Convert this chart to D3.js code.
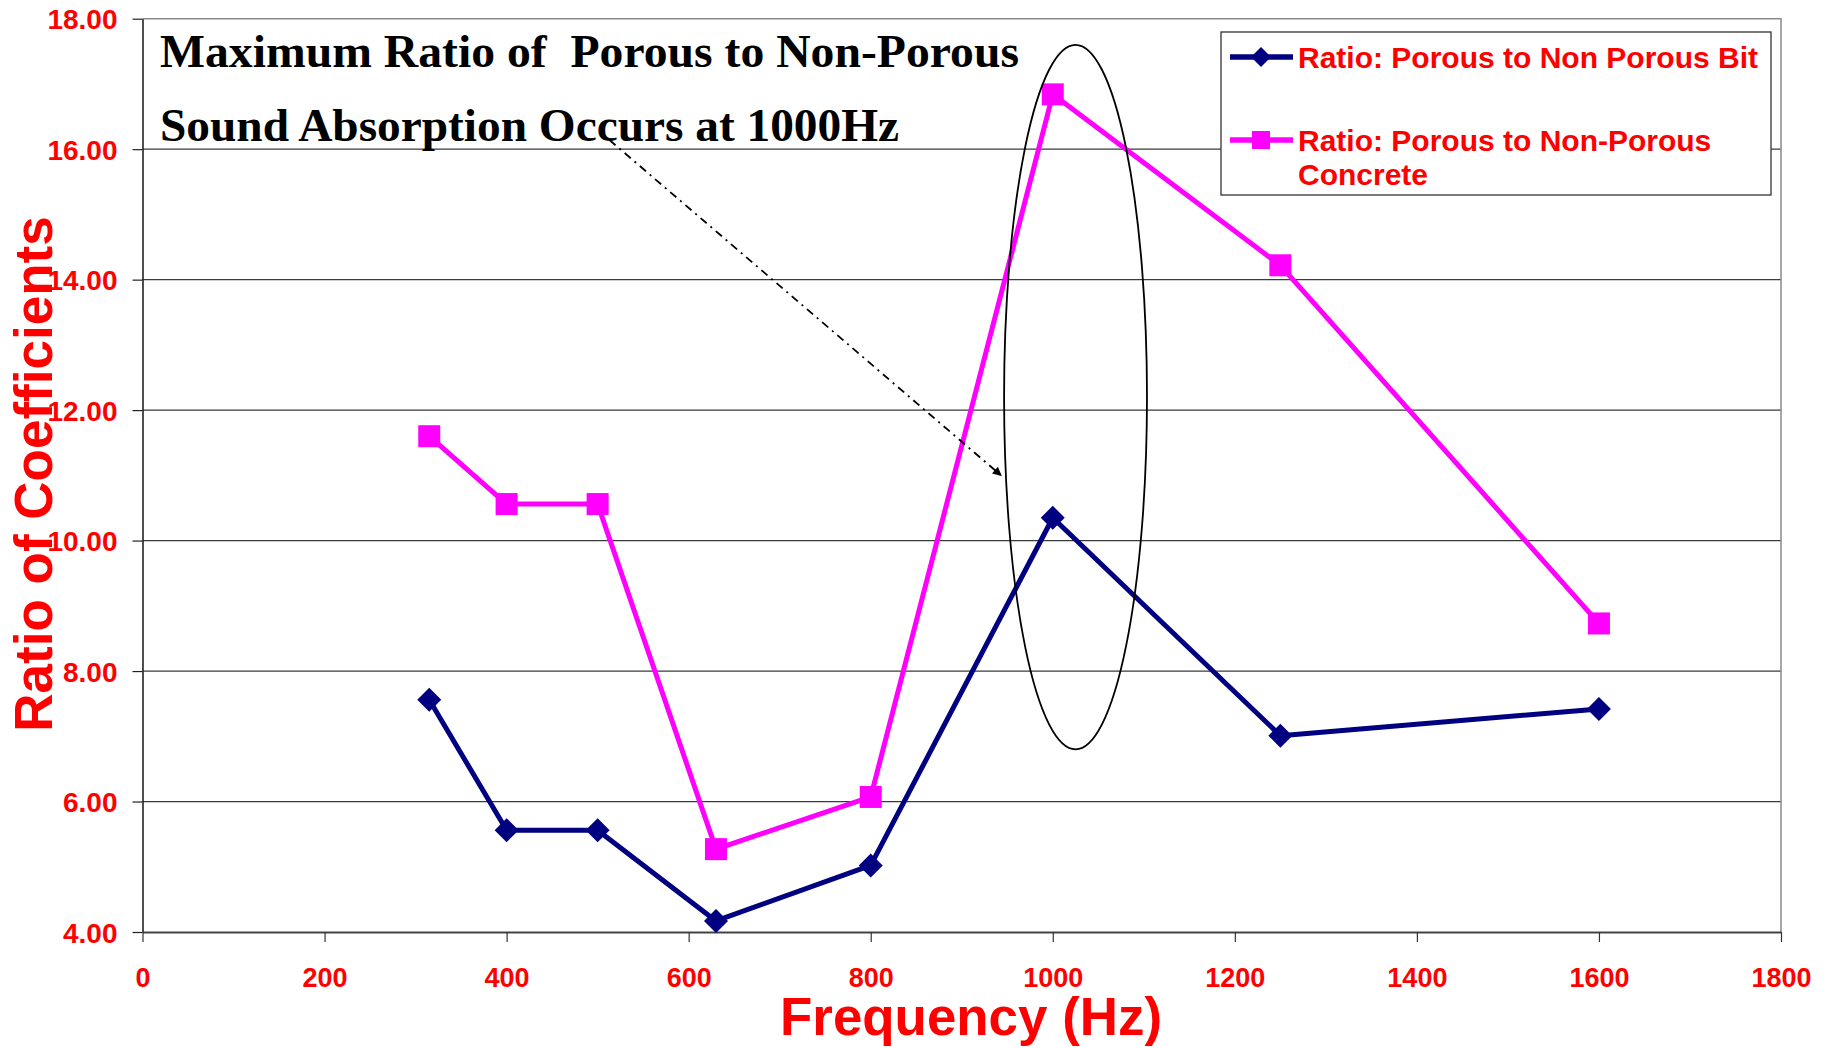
<!DOCTYPE html>
<html>
<head>
<meta charset="utf-8">
<script src="https://cdn.jsdelivr.net/npm/d3@7/dist/d3.min.js"></script>
<style>
  html, body { margin: 0; padding: 0; background: #ffffff; }
  svg { display: block; }
</style>
</head>
<body>
<div id="chart"></div>
<script>
// data
const frequencies = [315, 400, 500, 630, 800, 1000, 1250, 1600];
const bitRatio = [7.56, 5.56, 5.56, 4.17, 5.02, 10.35, 7.01, 7.42];
const concreteRatio = [11.60, 10.56, 10.56, 5.27, 6.07, 16.84, 14.22, 8.73];
const xTicks = [0, 200, 400, 600, 800, 1000, 1200, 1400, 1600, 1800];
const yTicks = [4, 6, 8, 10, 12, 14, 16, 18];
const seriesNames = ['Ratio: Porous to Non Porous Bit', 'Ratio: Porous to Non-Porous', 'Concrete'];
const noteLines = ['Maximum Ratio of  Porous to Non-Porous', 'Sound Absorption Occurs at 1000Hz'];
// annotation geometry in data units
const ellipseAt = { hz: 1025, val: 12.2, rHz: 78.5, rVal: 5.4 };
const arrowFrom = { hz: 513, val: 16.14 };
const arrowTo = { hz: 944, val: 10.99 };

const W = 1831, H = 1047;
const plot = { left: 142.5, right: 1781, top: 18.7, bottom: 932 };
const RED = '#ff0000', NAVY = '#000080', MAGENTA = '#ff00ff';
const SANS = '"Liberation Sans", Arial, Helvetica, sans-serif';
const SERIF = '"Liberation Serif", "Times New Roman", serif';

const x = d3.scaleLinear().domain([0, 1800]).range([plot.left, plot.right]);
const y = d3.scaleLinear().domain([4, 18]).range([plot.bottom, plot.top]);

const svg = d3.select('#chart').append('svg')
  .attr('width', W).attr('height', H)
  .attr('viewBox', `0 0 ${W} ${H}`);

svg.append('rect').attr('width', W).attr('height', H).attr('fill', '#fff');

const defs = svg.append('defs');
defs.append('marker')
  .attr('id', 'arrowhead')
  .attr('viewBox', '0 0 10 10')
  .attr('refX', 10).attr('refY', 5)
  .attr('markerWidth', 11).attr('markerHeight', 9)
  .attr('markerUnits', 'userSpaceOnUse')
  .attr('orient', 'auto')
  .append('path').attr('d', 'M0,0L10,5L0,10Z').attr('fill', '#000');

// gridlines
svg.append('g').selectAll('line')
  .data(yTicks.filter(t => t > 4 && t < 18))
  .join('line')
  .attr('x1', plot.left).attr('x2', plot.right)
  .attr('y1', d => y(d)).attr('y2', d => y(d))
  .attr('stroke', '#3a3a3a').attr('stroke-width', 1.2);

// plot frame (top & right)
svg.append('path')
  .attr('d', `M${plot.left},${plot.top}H${plot.right}V${plot.bottom}`)
  .attr('fill', 'none').attr('stroke', '#8a8a8a').attr('stroke-width', 1.5);

// y axis
const yAxis = svg.append('g')
  .attr('transform', `translate(${plot.left},0)`)
  .call(d3.axisLeft(y).tickValues(yTicks).tickFormat(d3.format('.2f'))
    .tickSize(10).tickSizeOuter(0).tickPadding(15));
yAxis.select('.domain').attr('stroke', '#222').attr('stroke-width', 1.6);
yAxis.selectAll('.tick line').attr('stroke', '#222').attr('stroke-width', 1.2);
yAxis.selectAll('.tick text')
  .attr('fill', RED).attr('font-family', SANS)
  .attr('font-size', 28).attr('font-weight', 'bold').attr('dy', '0.36em');

// x axis
const xAxis = svg.append('g')
  .attr('transform', `translate(0,${plot.bottom})`)
  .call(d3.axisBottom(x).tickValues(xTicks).tickFormat(d3.format('d'))
    .tickSize(10).tickSizeOuter(0));
xAxis.select('.domain').attr('stroke', '#444').attr('stroke-width', 2.2);
xAxis.selectAll('.tick line').attr('stroke', '#333').attr('stroke-width', 1.2);
xAxis.selectAll('.tick text')
  .attr('fill', RED).attr('font-family', SANS)
  .attr('font-size', 27).attr('font-weight', 'bold')
  .attr('y', 55).attr('dy', 0);

// axis titles
svg.append('text')
  .attr('x', 971)
  .attr('y', 1035)
  .attr('text-anchor', 'middle')
  .attr('fill', RED).attr('font-family', SANS)
  .attr('font-size', 53).attr('font-weight', 'bold')
  .attr('textLength', 382).attr('lengthAdjust', 'spacingAndGlyphs')
  .text('Frequency (Hz)');

svg.append('text')
  .attr('transform', 'translate(52,474) rotate(-90)')
  .attr('text-anchor', 'middle')
  .attr('fill', RED).attr('font-family', SANS)
  .attr('font-size', 53).attr('font-weight', 'bold')
  .text('Ratio of Coefficients');

// series
const line = d3.line()
  .x((d, i) => x(frequencies[i]))
  .y(d => y(d));

const diamond = s => `M0,${-s}L${s},0L0,${s}L${-s},0Z`;

svg.append('path')
  .datum(bitRatio)
  .attr('d', line)
  .attr('fill', 'none').attr('stroke', NAVY)
  .attr('stroke-width', 5).attr('stroke-linejoin', 'round');

svg.append('g').selectAll('path')
  .data(bitRatio)
  .join('path')
  .attr('transform', (d, i) => `translate(${x(frequencies[i])},${y(d)})`)
  .attr('d', diamond(12))
  .attr('fill', NAVY);

svg.append('path')
  .datum(concreteRatio)
  .attr('d', line)
  .attr('fill', 'none').attr('stroke', MAGENTA)
  .attr('stroke-width', 5).attr('stroke-linejoin', 'round');

svg.append('g').selectAll('rect')
  .data(concreteRatio)
  .join('rect')
  .attr('x', (d, i) => x(frequencies[i]) - 11)
  .attr('y', d => y(d) - 11)
  .attr('width', 22).attr('height', 22)
  .attr('fill', MAGENTA);

// annotation: ellipse round the 1000 Hz peak
const ecx = x(ellipseAt.hz), ecy = y(ellipseAt.val);
svg.append('ellipse')
  .attr('cx', ecx).attr('cy', ecy)
  .attr('rx', x(ellipseAt.hz + ellipseAt.rHz) - ecx)
  .attr('ry', y(ellipseAt.val - ellipseAt.rVal) - ecy)
  .attr('fill', 'none').attr('stroke', '#000').attr('stroke-width', 1.8);

// annotation: dash-dot arrow
svg.append('line')
  .attr('x1', x(arrowFrom.hz)).attr('y1', y(arrowFrom.val))
  .attr('x2', x(arrowTo.hz)).attr('y2', y(arrowTo.val))
  .attr('stroke', '#000').attr('stroke-width', 1.8)
  .attr('stroke-dasharray', '8,5,2,5')
  .attr('marker-end', 'url(#arrowhead)');

// annotation text
const noteWidths = [859, 739];
noteLines.forEach((t, i) => {
  svg.append('text')
    .attr('x', 160).attr('y', i === 0 ? 67 : 141)
    .attr('fill', '#000').attr('font-family', SERIF)
    .attr('font-size', 46).attr('font-weight', 'bold')
    .attr('textLength', noteWidths[i]).attr('lengthAdjust', 'spacingAndGlyphs')
    .attr('xml:space', 'preserve')
    .text(t);
});

// legend
const lg = svg.append('g');
lg.append('rect')
  .attr('x', 1221).attr('y', 32).attr('width', 550).attr('height', 163)
  .attr('fill', '#fff').attr('stroke', '#333').attr('stroke-width', 1.3);

lg.append('line').attr('x1', 1230).attr('x2', 1293).attr('y1', 57).attr('y2', 57)
  .attr('stroke', NAVY).attr('stroke-width', 5.5);
lg.append('path').attr('transform', 'translate(1261,57)').attr('d', diamond(10)).attr('fill', NAVY);

lg.append('line').attr('x1', 1230).attr('x2', 1293).attr('y1', 140).attr('y2', 140)
  .attr('stroke', MAGENTA).attr('stroke-width', 5.5);
lg.append('rect').attr('x', 1252).attr('y', 131).attr('width', 18).attr('height', 18).attr('fill', MAGENTA);

[[seriesNames[0], 68], [seriesNames[1], 151], [seriesNames[2], 185]].forEach(([t, by]) => {
  lg.append('text')
    .attr('x', 1298).attr('y', by)
    .attr('fill', RED).attr('font-family', SANS)
    .attr('font-size', 30).attr('font-weight', 'bold')
    .text(t);
});
</script>
</body>
</html>
